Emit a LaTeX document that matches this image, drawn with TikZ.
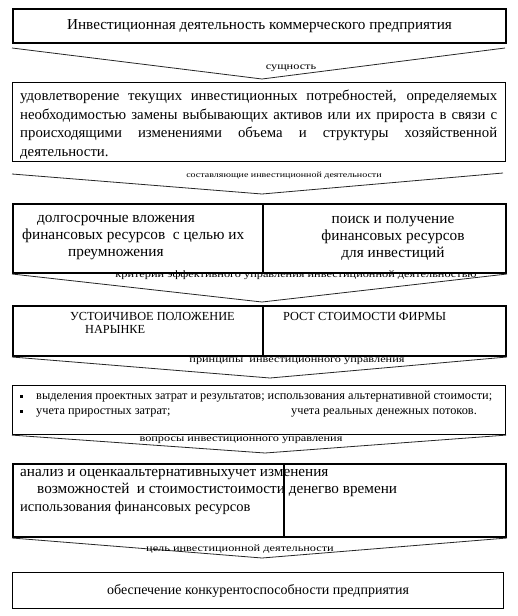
\documentclass[tikz,border=0pt]{standalone}
\usepackage{fontspec}
\setmainfont{Liberation Serif}
\usepackage{graphicx}
\usetikzlibrary{positioning}

% one justified line of the essence box
\newcommand{\fillline}[1]{\makebox[477pt][s]{\spaceskip=0pt\xspaceskip=0pt\relax #1}}
\newcommand{\squash}[1]{\scalebox{1}[0.8]{#1}}

\begin{document}
\begin{tikzpicture}[x=1pt,y=-1pt,
  frame/.style={draw, line width=2pt, anchor=north west, inner sep=0pt},
  thinframe/.style={draw, line width=1.1pt, anchor=north west, inner sep=0pt},
  chev/.style={line width=0.8pt, black!85},
  tag/.style={font=\fontsize{12.3}{12}\selectfont, inner sep=0pt},
  txt/.style={font=\fontsize{14}{17}\selectfont, inner sep=0pt},
  caps/.style={font=\fontsize{12.3}{13}\selectfont, inner sep=0pt, anchor=north west, align=left},
  small/.style={font=\fontsize{12.3}{15}\selectfont, inner sep=0pt, anchor=north west, align=left}]
\useasboundingbox (0,0) rectangle (517,616);

% boxes
\node[frame, txt, font=\fontsize{15.2}{17}\selectfont, minimum width=493pt, minimum height=34pt] (top) at (12,8)
  {Инвестиционная деятельность коммерческого предприятия};

\node[thinframe, minimum width=493pt, minimum height=79pt] (essence) at (12,82) {};
\node[txt, anchor=west, align=left, font=\fontsize{14.8}{18.5}\selectfont] (essencet) at (20,124.5)
  {\fillline{удовлетворение текущих инвестиционных потребностей, определяемых}\\
   \fillline{необходимостью замены выбывающих активов или их прироста в связи с}\\
   \fillline{происходящими изменениями объема и структуры хозяйственной}\\
   деятельности.};

\node[frame, minimum width=250pt, minimum height=69pt] (partl) at (12,203) {};
\node[frame, minimum width=243pt, minimum height=69pt] (partr) at (262,203) {};
\node[txt, align=left, anchor=west, font=\fontsize{15.3}{17}\selectfont] (partlt) at (22,238)
  {\hspace*{15pt}долгосрочные вложения\\
   финансовых ресурсов\ \ с целью их\\
   \hspace*{46pt}преумножения};
\node[txt, align=center, font=\fontsize{15.3}{17}\selectfont] (partrt) at (393,238)
  {поиск и получение\\ финансовых ресурсов\\ для инвестиций};

\node[frame, minimum width=250pt, minimum height=50pt] (critl) at (12,305) {};
\node[frame, minimum width=243pt, minimum height=50pt] (critr) at (262,305) {};
\node[caps] (critlt) at (70,312) {УСТОИЧИВОЕ ПОЛОЖЕНИЕ\\ \hspace*{15pt}НАРЫНКЕ};
\node[caps] (critrt) at (283,312) {РОСТ СТОИМОСТИ ФИРМЫ};

\node[thinframe, minimum width=493pt, minimum height=49pt] (princ) at (12,385) {};
\node[small] (princt) at (20,391)
  {\rule[2pt]{3pt}{3pt}\hspace{13pt}выделения проектных затрат и результатов; использования альтернативной стоимости;\\
   \rule[2pt]{3pt}{3pt}\hspace{13pt}\makebox[255pt][l]{учета приростных затрат;}учета реальных денежных потоков.};

\node[frame, minimum width=271pt, minimum height=73pt] (issl) at (12,463) {};
\node[frame, minimum width=222pt, minimum height=73pt] (issr) at (283,463) {};
\node[txt, align=left, anchor=north west, font=\fontsize{15.2}{17.5}\selectfont] (isst) at (20,469)
  {анализ и оценкаальтернативныхучет изменения\\
   \hspace*{17pt}возможностей\ \ и стоимостистоимости денегво времени\\
   {\fontsize{14.5}{17.5}\selectfont использования финансовых ресурсов}};

\node[thinframe, txt, minimum width=491pt, minimum height=36pt] (goal) at (12,572)
  {обеспечение конкурентоспособности предприятия};

% chevrons between the boxes
\coordinate (c1l) at (12,48);  \coordinate (c1t) at (262,79);  \coordinate (c1r) at (505,48);
\coordinate (c2l) at (12,174); \coordinate (c2t) at (262,194); \coordinate (c2r) at (503,173);
\coordinate (c3t) at (262,302);
\coordinate (c4t) at (270,378);
\coordinate (c5t) at (265,453);
\coordinate (c6t) at (262,558);

\draw[chev] (c1l) -- (c1t) -- (c1r);
\draw[chev] (c2l) -- (c2t) -- (c2r);
\draw[chev] (partl.south west) -- (c3t) -- (partr.south east);
\draw[chev] (critl.south west) -- (c4t) -- (critr.south east);
\draw[chev] (princ.south west) -- (c5t) -- (princ.south east);
\draw[chev] (issl.south west) -- (c6t) -- (issr.south east);

\node[tag] (t1) at (291,68) {\squash{сущность}};
\node[tag, font=\fontsize{10}{10}\selectfont] (t2) at (284,176) {\squash{составляющие инвестиционной деятельности}};
\node[tag] (t3) at (296,275) {\squash{критерии эффективного управления инвестиционной деятельностью}};
\node[tag] (t4) at (297,361) {\squash{принципы\ \ инвестиционного управления}};
\node[tag] (t5) at (241,440) {\squash{вопросы инвестиционного управления}};
\node[tag] (t6) at (240,549) {\squash{цель инвестиционной деятельности}};
\end{tikzpicture}
\end{document}
